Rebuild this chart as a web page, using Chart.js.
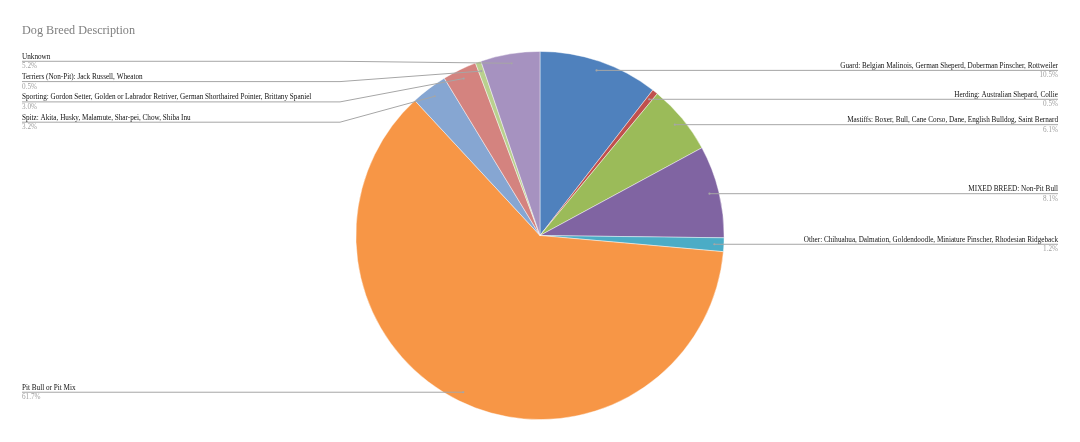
<!DOCTYPE html>
<html>
<head>
<meta charset="utf-8">
<script src="https://cdn.jsdelivr.net/npm/chart.js@4.4.1/dist/chart.umd.min.js"></script>
<style>
html,body{margin:0;padding:0;background:#fff;}
#wrap{position:relative;width:1080px;height:442px;}
</style>
</head>
<body>
<div id="wrap"><canvas id="c" width="1080" height="442"></canvas></div>
<script>
const chartTitle = "Dog Breed Description";
const categories = [
  "Guard: Belgian Malinois, German Sheperd, Doberman Pinscher, Rottweiler",
  "Herding: Australian Shepard, Collie",
  "Mastiffs: Boxer, Bull, Cane Corso, Dane, English Bulldog, Saint Bernard",
  "MIXED BREED: Non-Pit Bull",
  "Other: Chihuahua, Dalmation, Goldendoodle, Miniature Pinscher, Rhodesian Ridgeback",
  "Pit Bull or Pit Mix",
  "Spitz: Akita, Husky, Malamute, Shar-pei, Chow, Shiba Inu",
  "Sporting: Gordon Setter, Golden or Labrador Retriver, German Shorthaired Pointer, Brittany Spaniel",
  "Terriers (Non-Pit): Jack Russell, Wheaton",
  "Unknown"
];
const values = [10.5, 0.5, 6.1, 8.1, 1.2, 61.7, 3.2, 3.0, 0.5, 5.2];
const colors = ["#4f81bd", "#c0504d", "#9bbb59", "#8064a2", "#4bacc6", "#f79646", "#86a6d2", "#d4837f", "#b9d08e", "#a692c0"];

const FONT = '"Liberation Serif", "Times New Roman", serif';

const labelPlugin = {
  id: 'excelLabels',
  afterDatasetsDraw(chart) {
    const ctx = chart.ctx;
    const meta = chart.getDatasetMeta(0);
    const leftX = 22, rightX = 1058, elbowLeft = 340;
    const gap = 20.3;
    const items = meta.data.map((arc, i) => {
      const p = arc.getProps(['x','y','startAngle','endAngle','outerRadius'], true);
      const mid = (p.startAngle + p.endAngle) / 2;
      const rr = p.outerRadius * 0.948;
      return {
        i,
        ax: p.x + Math.cos(mid) * rr,
        ay: p.y + Math.sin(mid) * rr,
        side: Math.cos(mid) >= 0 ? 'right' : 'left'
      };
    });
    ['left','right'].forEach(side => {
      const list = items.filter(o => o.side === side).sort((a,b) => a.ay - b.ay);
      let prev = -Infinity;
      list.forEach(o => {
        o.pushed = o.ay < prev + gap;
        o.ly = Math.max(o.ay, prev + gap);
        prev = o.ly;
      });
      list.forEach((o, k) => {
        const next = list[k+1];
        if (o.pushed || (next && next.pushed)) o.ly -= 2;
      });
    });

    ctx.save();
    ctx.font = '12.2px ' + FONT;
    ctx.fillStyle = '#7f7f7f';
    ctx.textAlign = 'left';
    ctx.textBaseline = 'alphabetic';
    ctx.fillText(chartTitle, 22, 33.5);

    items.forEach(o => {
      ctx.strokeStyle = '#a6a6a6';
      ctx.lineWidth = 1;
      ctx.beginPath();
      if (o.side === 'right') {
        ctx.moveTo(o.ax, o.ay);
        ctx.lineTo(rightX, o.ly);
      } else {
        ctx.moveTo(leftX, o.ly);
        ctx.lineTo(elbowLeft, o.ly);
        ctx.lineTo(o.ax, o.ay);
      }
      ctx.stroke();
      ctx.fillStyle = '#a6a6a6';
      ctx.beginPath();
      ctx.arc(o.ax, o.ay, 1.1, 0, Math.PI * 2);
      ctx.fill();

      const tx = o.side === 'right' ? rightX : leftX;
      ctx.textAlign = o.side === 'right' ? 'right' : 'left';
      ctx.font = '7.2px ' + FONT;
      ctx.fillStyle = '#111111';
      ctx.fillText(categories[o.i], tx, o.ly - 2.5);
      ctx.fillStyle = '#a0a0a0';
      ctx.fillText(values[o.i].toFixed(1) + '%', tx, o.ly + 7);
    });
    ctx.restore();
  }
};

new Chart(document.getElementById('c'), {
  type: 'pie',
  data: {
    labels: categories,
    datasets: [{
      data: values,
      backgroundColor: colors,
      borderColor: 'rgba(255,255,255,0.55)',
      borderWidth: 0.8
    }]
  },
  options: {
    responsive: false,
    animation: false,
    layout: { padding: { top: 51, bottom: 22, left: 0, right: 0 } },
    plugins: {
      legend: { display: false },
      title: { display: false },
      tooltip: { enabled: false }
    }
  },
  plugins: [labelPlugin]
});
</script>
</body>
</html>
